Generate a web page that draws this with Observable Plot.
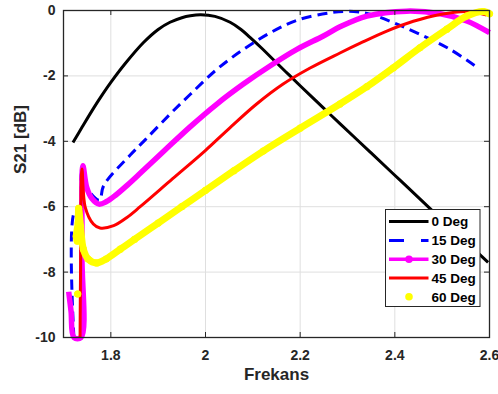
<!DOCTYPE html>
<html><head><meta charset="utf-8">
<script src="https://cdn.jsdelivr.net/npm/d3@7"></script>
<script src="https://cdn.jsdelivr.net/npm/@observablehq/plot@0.6"></script>
<style>body{margin:0;background:#fff} svg{display:block}</style>
</head><body><div id="chart"></div>
<script>
// ---- data ----
const xTicks = [1.8, 2, 2.2, 2.4, 2.6];
const xTickLabels = ["1.8", "2", "2.2", "2.4", "2.6"];
const yTicks = [-10, -8, -6, -4, -2, 0];
const yTickLabels = ["-10", "-8", "-6", "-4", "-2", "0"];
const xLabel = "Frekans";
const yLabel = "S21 [dB]";
const seriesNames = ["0 Deg", "15 Deg", "30 Deg", "45 Deg", "60 Deg"];

const freq0 = [1.720, 1.740, 1.763, 1.780, 1.800, 1.830, 1.869, 1.900, 1.925, 1.950, 1.968, 1.990, 2.020, 2.052, 2.075, 2.094, 2.120, 2.143, 2.170, 2.200, 2.249, 2.284, 2.348, 2.397, 2.425, 2.474, 2.530, 2.597];
const s21_0 = [-4.04, -3.55, -3.00, -2.62, -2.20, -1.63, -0.98, -0.58, -0.36, -0.22, -0.16, -0.13, -0.18, -0.36, -0.58, -0.82, -1.17, -1.50, -1.88, -2.30, -2.98, -3.46, -4.33, -5.00, -5.38, -6.05, -6.80, -7.70];

const freq15 = [1.722, 1.722, 1.735, 1.738, 1.750, 1.776, 1.785, 1.841, 1.873, 1.925, 1.968, 2.024, 2.080, 2.137, 2.193, 2.263, 2.313, 2.350, 2.397, 2.453, 2.517, 2.575];
const s21_15 = [-10, -6.2, -6.0, -4.95, -5.45, -5.80, -5.35, -4.42, -3.95, -3.17, -2.56, -1.80, -1.19, -0.68, -0.30, -0.07, -0.03, -0.12, -0.37, -0.73, -1.19, -1.75];

const freq30 = [1.711, 1.716, 1.722, 1.737, 1.739, 1.741, 1.749, 1.760, 1.775, 1.790, 1.810, 1.835, 1.862, 1.915, 1.968, 2.024, 2.080, 2.137, 2.193, 2.249, 2.284, 2.341, 2.425, 2.496, 2.552, 2.600];
const s21_30 = [-8.6, -9.2, -10, -10, -7.5, -4.75, -5.41, -5.75, -5.92, -5.85, -5.65, -5.34, -4.98, -4.26, -3.55, -2.86, -2.25, -1.69, -1.19, -0.78, -0.50, -0.17, -0.02, -0.10, -0.32, -0.68];

const freq45 = [1.735, 1.736, 1.739, 1.746, 1.763, 1.777, 1.806, 1.834, 1.862, 1.930, 1.999, 2.052, 2.108, 2.164, 2.221, 2.284, 2.327, 2.383, 2.439, 2.496, 2.552, 2.594];
const s21_45 = [-10, -8, -4.85, -6.02, -6.53, -6.65, -6.58, -6.33, -6.00, -5.15, -4.29, -3.58, -2.86, -2.25, -1.76, -1.30, -1.00, -0.63, -0.33, -0.12, -0.03, -0.14];

const freq60 = [1.730, null, 1.729, 1.727, 1.731, 1.732, 1.736, 1.742, 1.752, 1.770, 1.790, 1.820, 1.850, 1.900, 1.950, 2.000, 2.060, 2.122, 2.200, 2.284, 2.341, 2.397, 2.453, 2.510, 2.552, 2.587, 2.600];
const s21_60 = [-8.67, null, -7.05, -6.90, -6.50, -6.05, -6.60, -7.30, -7.60, -7.72, -7.60, -7.30, -7.00, -6.50, -6.00, -5.50, -4.90, -4.30, -3.60, -2.86, -2.33, -1.75, -1.14, -0.57, -0.17, -0.03, -0.10];

// ---- build tables ----
const rows = (fs, ss) => fs.map((f, i) => ({f, s: ss[i]}));
const d0 = rows(freq0, s21_0), d15 = rows(freq15, s21_15), d30 = rows(freq30, s21_30),
      d45 = rows(freq45, s21_45), d60 = rows(freq60, s21_60);

// ---- styles / layout ----
const FONT = "'Liberation Sans', Arial, Helvetica, sans-serif";
const AX = "#262626", GRID = "#dfdfdf";
const W = 498, H = 394, mL = 63, mR = 9, mT = 10, mB = 57;
const plotH = H - mT - mB, plotW = W - mL - mR;
const TL = 5;
const CURVE = "catmull-rom";

const chart = Plot.plot({
  width: W, height: H,
  marginLeft: mL, marginRight: mR, marginTop: mT, marginBottom: mB,
  x: {domain: [1.7, 2.6]},
  y: {domain: [-10, 0]},
  style: {fontFamily: FONT, fontWeight: "bold", fontSize: "14px", background: "#fff", overflow: "visible", color: AX},
  marks: [
    Plot.ruleX(xTicks, {stroke: GRID, strokeWidth: 1}),
    Plot.ruleY(yTicks, {stroke: GRID, strokeWidth: 1}),
    Plot.line(d0, {x: "f", y: "s", curve: CURVE, stroke: "#000000", strokeWidth: 3, strokeLinecap: "butt"}),
    Plot.line(d15, {x: "f", y: "s", curve: CURVE, stroke: "#0000ff", strokeWidth: 3, strokeDasharray: "10,6", strokeLinecap: "butt"}),
    Plot.line(d30, {x: "f", y: "s", curve: CURVE, stroke: "#ff00ff", strokeWidth: 5.5, strokeLinecap: "butt"}),
    Plot.line(d45, {x: "f", y: "s", curve: CURVE, stroke: "#ff0000", strokeWidth: 3, strokeLinecap: "butt"}),
    Plot.line(d60, {x: "f", y: "s", curve: CURVE, stroke: "#ffff00", strokeWidth: 7, strokeLinecap: "round"}),
    Plot.dot(d60, {x: "f", y: "s", r: 3.6, fill: "#ffff00", stroke: "none"}),
    Plot.frame({stroke: AX, strokeWidth: 1.3}),
    Plot.tickX(xTicks, {x: d => d, insetTop: plotH - TL, stroke: AX}),
    Plot.tickX(xTicks, {x: d => d, insetBottom: plotH - TL, stroke: AX}),
    Plot.tickY(yTicks, {y: d => d, insetRight: plotW - TL, stroke: AX}),
    Plot.tickY(yTicks, {y: d => d, insetLeft: plotW - TL, stroke: AX}),
    Plot.axisX({ticks: xTicks, tickFormat: d => xTickLabels[xTicks.indexOf(d)], tickSize: 0, tickPadding: 13, label: null, fontSize: 14, fill: AX}),
    Plot.axisY({ticks: yTicks, tickFormat: d => yTickLabels[yTicks.indexOf(d)], tickSize: 0, tickPadding: 8, label: null, fontSize: 14, fill: AX}),
    Plot.text([xLabel], {text: d => d, frameAnchor: "bottom", dy: 42, fontSize: 17, fill: AX}),
    Plot.text([yLabel], {text: d => d, frameAnchor: "left", rotate: -90, dx: -43, fontSize: 17, fill: AX})
  ]
});
document.getElementById("chart").appendChild(chart);

// ---- legend ----
const legendStyles = [
  {stroke: "#000000", width: 3, dash: null, line: true, dot: false},
  {stroke: "#0000ff", width: 3, dash: "15,17", line: true, dot: false},
  {stroke: "#ff00ff", width: 3.5, dash: null, line: true, dot: true},
  {stroke: "#ff0000", width: 3, dash: null, line: true, dot: false},
  {stroke: "#ffff00", width: 3, dash: null, line: false, dot: true}
];
const svg = d3.select(chart);
const lg = svg.append("g").attr("font-family", FONT).attr("font-weight", "bold").attr("text-anchor", "start");
const bx = 385.5, by = 209.5, bw = 94.5, bh = 97, rowY0 = 221.6, rowStep = 18.8;
lg.append("rect").attr("x", bx).attr("y", by).attr("width", bw).attr("height", bh)
  .attr("fill", "#fff").attr("stroke", AX).attr("stroke-width", 1);
seriesNames.forEach((name, i) => {
  const st = legendStyles[i];
  const y = rowY0 + i * rowStep;
  if (st.line) {
    lg.append("line").attr("x1", 389).attr("x2", 428.5).attr("y1", y).attr("y2", y)
      .attr("stroke", st.stroke).attr("stroke-width", st.width)
      .attr("stroke-dasharray", st.dash);
  }
  if (st.dot) {
    lg.append("circle").attr("cx", 409).attr("cy", y).attr("r", 3.8).attr("fill", st.stroke);
  }
  lg.append("text").attr("x", 431.5).attr("y", y).attr("dy", "0.36em")
    .attr("text-anchor", "start")
    .attr("font-size", 13.5).attr("fill", "#000").text(name);
});
</script>
</body></html>
